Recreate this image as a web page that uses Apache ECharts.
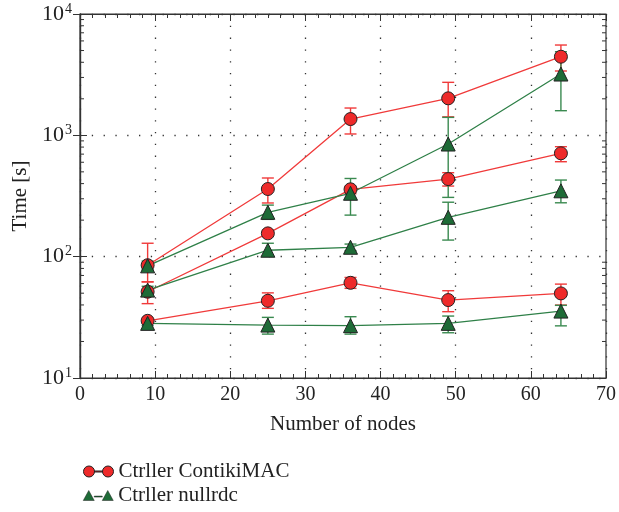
<!DOCTYPE html>
<html><head><meta charset="utf-8">
<script src="https://cdn.jsdelivr.net/npm/echarts@6/dist/echarts.min.js"></script>
<style>html,body{margin:0;padding:0;background:#fff}#c{width:619px;height:512px}</style>
</head><body><div id="c"></div>
<script>
const nodes = [9, 25, 36, 49, 64];
const xTicks = [0, 10, 20, 30, 40, 50, 60, 70];
const yTickExps = [1, 2, 3, 4];

const contikiA = [85, 361, 1362, 2018, 4446];
const contikiA_lo = [62, 277, 1026, 1420, 3390];
const contikiA_hi = [129, 445, 1679, 2734, 5550];
const contikiB = [51.4, 155.6, 359, 436, 711];
const contikiB_lo = [41, 147, 330, 382, 606];
const contikiB_hi = [62, 165, 380, 492, 806];
const contikiC = [29.6, 43.3, 60.9, 43.9, 49.8];
const contikiC_lo = [28.3, 37.5, 54.8, 35.2, 39.9];
const contikiC_hi = [31, 50.3, 67.4, 52.4, 59.4];

const nullA = [84, 232, 333, 848, 3200];
const nullA_lo = [78, 203, 220, 308, 1596];
const nullA_hi = [92, 266, 441, 1406, 4888];
const nullB = [53, 113, 119.5, 211, 349];
const nullB_lo = [49, 101, 112, 137, 278];
const nullB_hi = [57, 129, 127, 281, 428];
const nullC = [28.2, 27.3, 27, 28.2, 35.6];
const nullC_lo = [27, 23, 23, 23.6, 26.9];
const nullC_hi = [29.5, 31.6, 32, 32.4, 39.7];

const NAME_RED = 'Ctrller ContikiMAC';
const NAME_GREEN = 'Ctrller nullrdc';
const RED = '#ee2a2a', RED_LINE = '#f03a3a', GREEN = '#1e6b37', GREEN_LINE = '#2f8048';
const FONT = 'Liberation Serif';

const chart = echarts.init(document.getElementById('c'));

function lineSeries(name, vals, isRed) {
  return {
    type: 'line', name: name,
    data: nodes.map((x, i) => [x, vals[i]]),
    symbol: isRed ? 'circle' : 'triangle',
    symbolSize: isRed ? 13 : 14,
    itemStyle: { color: isRed ? RED : GREEN, borderColor: '#222', borderWidth: 1 },
    lineStyle: { color: isRed ? RED_LINE : GREEN_LINE, width: 1.3 },
    z: 5, animation: false
  };
}
function errSeries(name, lo, hi, isRed) {
  const col = isRed ? RED_LINE : '#3a8a50';
  return {
    type: 'custom', name: name,
    data: nodes.map((x, i) => [x, lo[i], hi[i]]),
    encode: { x: 0, y: [1, 2] },
    renderItem: function (params, api) {
      const x = api.value(0);
      const a = api.coord([x, api.value(1)]);
      const b = api.coord([x, api.value(2)]);
      const w = 6;
      const st = { stroke: col, lineWidth: 1.4 };
      return { type: 'group', children: [
        { type: 'line', shape: { x1: a[0], y1: a[1], x2: b[0], y2: b[1] }, style: st },
        { type: 'line', shape: { x1: a[0]-w, y1: a[1], x2: a[0]+w, y2: a[1] }, style: st },
        { type: 'line', shape: { x1: b[0]-w, y1: b[1], x2: b[0]+w, y2: b[1] }, style: st }
      ]};
    },
    z: 4, animation: false
  };
}

// minor tick values of the log axis (2..9 per decade)
const minorVals = [];
for (let e = 1; e < 4; e++) for (let m = 2; m <= 9; m++) minorVals.push(m * Math.pow(10, e));

const minorTickSeries = {
  type: 'custom', name: 'minor', silent: true,
  data: minorVals.map(v => [0, v]),
  renderItem: function (params, api) {
    const v = api.value(1);
    const l = api.coord([0, v]);
    const r = api.coord([70, v]);
    const st = { stroke: '#333', lineWidth: 1 };
    return { type: 'group', children: [
      { type: 'line', shape: { x1: l[0], y1: l[1], x2: l[0] + 4, y2: l[1] }, style: st },
      { type: 'line', shape: { x1: r[0], y1: r[1], x2: r[0] - 4, y2: r[1] }, style: st }
    ]};
  },
  z: 3, animation: false
};

const legendPath = 'path://M0,5.5 a5.5,5.5 0 1,0 11,0 a5.5,5.5 0 1,0 -11,0 Z M19,5.5 a5.5,5.5 0 1,0 11,0 a5.5,5.5 0 1,0 -11,0 Z M11,5 L19,5 L19,6 L11,6 Z';
const legendTri = 'path://M0,11 L5.5,1 L11,11 Z M19,11 L24.5,1 L30,11 Z M11,6.6 L19,6.6 L19,7.6 L11,7.6 Z';
const legTxt = { fontFamily: FONT, fontSize: 21, color: '#222' };

chart.setOption({
  animation: false,
  grid: { left: 80, right: 10, top: 14, bottom: 134, show: true, borderColor: '#333', borderWidth: 1.2, backgroundColor: 'transparent' },
  legend: [{
    left: 78, top: 456, itemWidth: 30, itemHeight: 11, itemGap: 11,
    textStyle: legTxt,
    data: [{ name: NAME_RED, icon: legendPath, itemStyle: { color: RED, borderColor: '#222', borderWidth: 1 } }]
  }, {
    left: 78, top: 480, itemWidth: 30, itemHeight: 11, itemGap: 11,
    textStyle: legTxt,
    data: [{ name: NAME_GREEN, icon: legendTri, itemStyle: { color: GREEN, borderColor: '#222', borderWidth: 0.5 } }]
  }],
  xAxis: [{
    type: 'value', min: 0, max: 70, interval: 10, position: 'bottom',
    name: 'Number of nodes', nameLocation: 'middle', nameGap: 36,
    nameTextStyle: { fontFamily: FONT, fontSize: 21, color: '#222' },
    axisLine: { show: true, lineStyle: { color: '#333', width: 1.2 } },
    axisTick: { show: true, inside: true, length: 7, lineStyle: { color: '#333' } },
    minorTick: { show: true, splitNumber: 6, length: 4, lineStyle: { color: '#333' } },
    axisLabel: { fontFamily: FONT, fontSize: 20, color: '#222', margin: 7,
      formatter: v => xTicks.indexOf(v) >= 0 ? String(v) : '' },
    splitLine: { show: true, lineStyle: { color: '#333', type: [1.3, 10.5], width: 1.3 } }
  }, {
    type: 'value', min: 0, max: 70, interval: 10, position: 'top',
    axisLine: { show: true, lineStyle: { color: '#333', width: 1.2 } },
    axisTick: { show: true, inside: true, length: 7, lineStyle: { color: '#333' } },
    minorTick: { show: true, splitNumber: 6, length: 4, lineStyle: { color: '#333' } },
    axisLabel: { show: false }, splitLine: { show: false }
  }],
  yAxis: [{
    type: 'log', logBase: 10, min: 10, max: 10000, position: 'left',
    name: 'Time [s]', nameLocation: 'middle', nameGap: 47,
    nameTextStyle: { fontFamily: FONT, fontSize: 21, color: '#222' },
    axisLine: { show: true, lineStyle: { color: '#333', width: 1.2 } },
    axisTick: { show: true, inside: true, length: 7, lineStyle: { color: '#333' } },
    axisLabel: { margin: 8, color: '#222',
      formatter: v => '{b|10}{s|' + Math.round(Math.log10(v)) + '}',
      rich: { b: { fontFamily: FONT, fontSize: 22, color: '#222' },
              s: { fontFamily: FONT, fontSize: 14, color: '#222', verticalAlign: 'top', padding: [0, 0, 10, 1] } } },
    splitLine: { show: true, lineStyle: { color: '#333', type: [1.3, 10.5], width: 1.3 } }
  }, {
    type: 'log', logBase: 10, min: 10, max: 10000, position: 'right',
    axisLine: { show: true, lineStyle: { color: '#333', width: 1.2 } },
    axisTick: { show: true, inside: true, length: 7, lineStyle: { color: '#333' } },
    axisLabel: { show: false }, splitLine: { show: false }
  }],
  series: [
    lineSeries(NAME_RED, contikiA, true),
    lineSeries(NAME_RED, contikiB, true),
    lineSeries(NAME_RED, contikiC, true),
    lineSeries(NAME_GREEN, nullA, false),
    lineSeries(NAME_GREEN, nullB, false),
    lineSeries(NAME_GREEN, nullC, false),
    errSeries(NAME_RED, contikiA_lo, contikiA_hi, true),
    errSeries(NAME_RED, contikiB_lo, contikiB_hi, true),
    errSeries(NAME_RED, contikiC_lo, contikiC_hi, true),
    errSeries(NAME_GREEN, nullA_lo, nullA_hi, false),
    errSeries(NAME_GREEN, nullB_lo, nullB_hi, false),
    errSeries(NAME_GREEN, nullC_lo, nullC_hi, false),
    minorTickSeries
  ]
});
</script></body></html>
